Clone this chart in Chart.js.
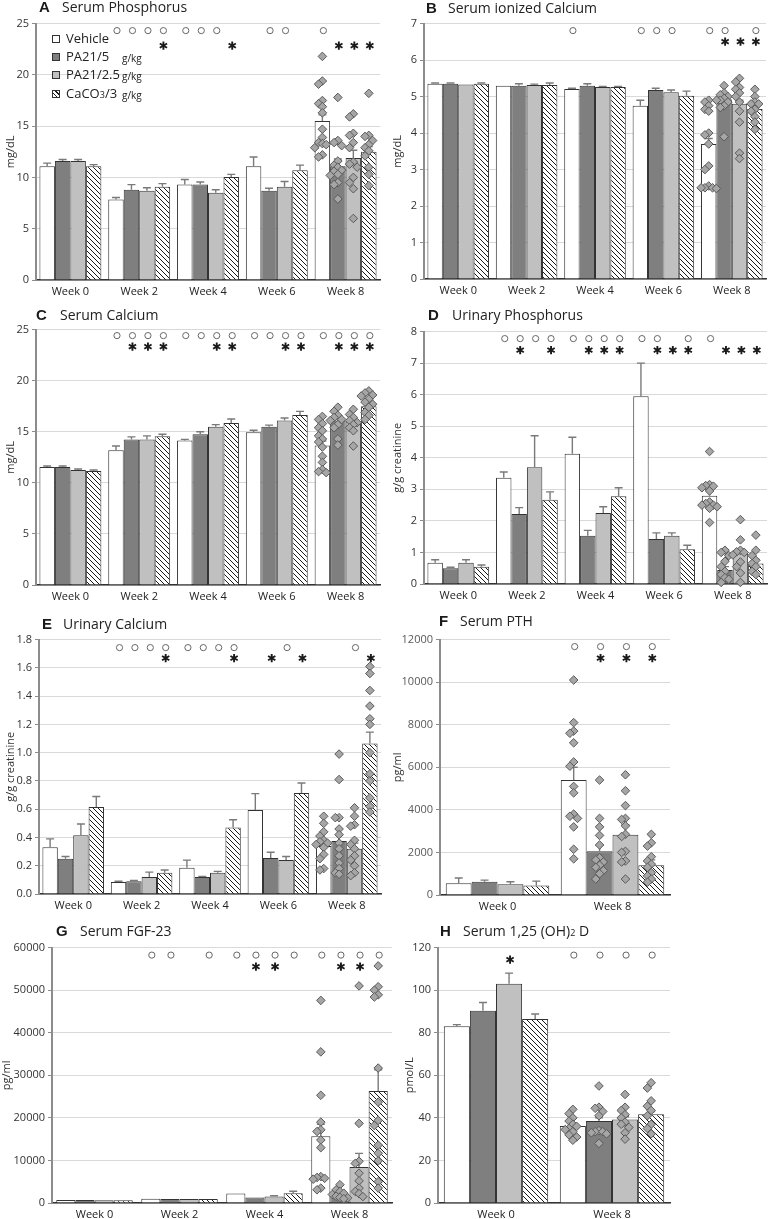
<!DOCTYPE html>
<html><head><meta charset="utf-8">
<script src="https://cdn.jsdelivr.net/npm/chart.js@4.4.1/dist/chart.umd.min.js"></script>
<style>
html,body{margin:0;padding:0;background:#fff;}
body{width:771px;height:1219px;position:relative;overflow:hidden;font-family:'Open Sans',sans-serif;color:#222;}
canvas{position:absolute;}
.tl{position:absolute;font-family:'Liberation Sans',Arial,sans-serif;font-weight:bold;font-size:15px;line-height:1;white-space:nowrap;color:#1a1a1a;}
.tt{position:absolute;font-family:'Open Sans',sans-serif;font-size:14px;line-height:1;white-space:nowrap;color:#222;}
.sub{font-size:9px;}
.lgbox{position:absolute;width:8px;height:8px;border:1px solid #333;box-sizing:border-box;}
.lgtx{position:absolute;font-size:13px;line-height:1;white-space:nowrap;color:#222;}
.lgu{position:absolute;font-size:10px;line-height:1;white-space:nowrap;color:#222;}
</style>
</head><body>
<script>
// ---------- categories / series ----------
const groupNames = ['Vehicle', 'PA21/5', 'PA21/2.5', 'CaCO₃/3'];
const unitLabel = 'g/kg';
const weeksFive = ['Week 0', 'Week 2', 'Week 4', 'Week 6', 'Week 8'];
const weeksFour = ['Week 0', 'Week 2', 'Week 4', 'Week 8'];
const weeksTwo = ['Week 0', 'Week 8'];

// ---------- A Serum Phosphorus (mg/dL) ----------
const phosMeans = [[11.1, 7.85, 9.3, 11.1, 15.5], [11.6, 8.8, 9.3, 8.7, 11.1], [11.6, 8.7, 8.5, 9.1, 11.9], [11.1, 9.1, 10.05, 10.7, 12.5]];
const phosErr = [[11.4, 8.05, 9.8, 12.0, 16.1], [11.75, 9.3, 9.55, 8.95, 11.8], [11.75, 9.0, 8.8, 9.6, 12.65], [11.25, 9.4, 10.3, 11.2, 13.0]];
const phosPts = [[21.8, 19.4, 19.1, 17.5, 17.2, 16.9, 16.3, 14.7, 13.9, 13.4, 13.3, 13.2, 12.9, 12.2, 12.0],
  [17.8, 13.6, 13.4, 13.1, 11.6, 11.2, 11.0, 10.7, 10.6, 10.3, 10.2, 9.5, 9.3, 7.9],
  [16.2, 15.9, 14.3, 14.1, 13.4, 12.9, 11.5, 11.3, 11.0, 10.0, 9.5, 8.9, 6.0],
  [18.2, 14.1, 14.0, 13.6, 13.2, 12.9, 12.6, 12.1, 11.0, 10.3, 9.2]];
const phosCirc = ['0000', '1111', '1110', '0110', '1000'];
const phosStar = ['0000', '0001', '0001', '0000', '0111'];

// ---------- B Serum ionized Calcium (mg/dL) ----------
const ionMeans = [[5.35, 5.3, 5.21, 4.75, 3.7], [5.35, 5.3, 5.3, 5.18, 4.93], [5.33, 5.32, 5.26, 5.12, 4.8], [5.35, 5.32, 5.26, 5.02, 4.66]];
const ionErr = [[5.37, 5.31, 5.23, 4.9, 3.85], [5.37, 5.35, 5.35, 5.23, 5.0], [5.34, 5.34, 5.28, 5.18, 4.9], [5.37, 5.37, 5.28, 5.15, 4.75]];
const ionPts = [[4.9, 4.85, 4.75, 4.65, 4.6, 4.0, 3.95, 3.7, 3.1, 3.0, 2.55, 2.5, 2.5, 2.5, 2.48],
  [5.3, 5.1, 5.05, 5.0, 4.95, 4.9, 4.9, 4.85, 4.75, 4.7, 3.9],
  [5.5, 5.4, 5.25, 5.2, 5.1, 5.0, 4.85, 4.6, 4.3, 3.45, 3.3],
  [5.2, 5.0, 4.85, 4.8, 4.8, 4.65, 4.6, 4.45, 4.3, 4.1]];
const ionCirc = ['0000', '0000', '1000', '1110', '1101'];
const ionStar = ['0000', '0000', '0000', '0000', '0111'];

// ---------- C Serum Calcium (mg/dL) ----------
const caMeans = [[11.55, 13.2, 14.15, 14.95, 13.65], [11.55, 14.25, 14.75, 15.5, 16.1], [11.25, 14.25, 15.5, 16.1, 16.0], [11.15, 14.55, 15.85, 16.65, 17.5]];
const caErr = [[11.65, 13.6, 14.25, 15.15, 14.1], [11.65, 14.5, 15.0, 15.65, 16.35], [11.35, 14.6, 15.7, 16.35, 16.3], [11.25, 14.75, 16.25, 17.0, 17.85]];
const caPts = [[16.5, 16.2, 15.8, 15.4, 15.1, 14.6, 14.3, 14.0, 13.5, 12.6, 12.0, 11.3, 11.1, 11.0],
  [17.4, 17.0, 16.6, 16.4, 16.2, 16.1, 15.7, 15.4, 14.3, 13.7],
  [17.2, 16.7, 16.4, 16.1, 15.9, 15.7, 15.4, 15.1, 13.6],
  [19.0, 18.8, 18.6, 18.5, 18.2, 17.9, 17.7, 17.4, 16.9, 16.6, 16.2]];
const caCirc = ['0000', '1111', '1111', '1111', '1111'];
const caStar = ['0000', '0111', '0011', '0011', '0111'];

// ---------- D Urinary Phosphorus (g/g creatinine) ----------
const upMeans = [[0.67, 3.37, 4.13, 5.95, 2.8], [0.5, 2.22, 1.53, 1.43, 0.44], [0.67, 3.7, 2.25, 1.53, 0.97], [0.55, 2.67, 2.78, 1.1, 0.65]];
const upErr = [[0.77, 3.55, 4.65, 7.0, 2.95], [0.53, 2.42, 1.7, 1.62, 0.55], [0.77, 4.7, 2.45, 1.62, 1.12], [0.6, 2.92, 3.05, 1.23, 0.78]];
const upPts = [[4.2, 3.15, 3.12, 3.1, 3.05, 2.95, 2.6, 2.55, 2.5, 2.5, 2.45, 2.4, 1.95],
  [1.07, 1.0, 0.9, 0.72, 0.55, 0.4, 0.3, 0.2, 0.15, 0.05],
  [2.04, 1.4, 1.07, 1.02, 1.0, 0.92, 0.7, 0.55, 0.35, 0.05],
  [1.55, 1.07, 0.9, 0.75, 0.65, 0.55, 0.4, 0.3]];
const upCirc = ['0000', '1111', '1111', '1101', '1000'];
const upStar = ['0000', '0101', '0111', '0111', '0111'];

// ---------- E Urinary Calcium (g/g creatinine) ----------
const ucMeans = [[0.33, 0.085, 0.185, 0.595, 0.34], [0.25, 0.09, 0.12, 0.255, 0.375], [0.415, 0.12, 0.15, 0.24, 0.32], [0.615, 0.15, 0.47, 0.715, 1.065]];
const ucErr = [[0.39, 0.09, 0.24, 0.71, 0.38], [0.265, 0.095, 0.125, 0.295, 0.42], [0.495, 0.155, 0.16, 0.265, 0.36], [0.69, 0.17, 0.525, 0.785, 1.145]];
const ucPts = [[0.55, 0.5, 0.44, 0.41, 0.38, 0.37, 0.36, 0.35, 0.33, 0.28, 0.25, 0.18, 0.17],
  [0.99, 0.81, 0.54, 0.54, 0.46, 0.42, 0.36, 0.32, 0.27, 0.22, 0.18, 0.15, 0.14],
  [0.61, 0.55, 0.49, 0.48, 0.38, 0.35, 0.32, 0.27, 0.24, 0.2, 0.15, 0.13],
  [1.61, 1.56, 1.44, 1.33, 1.24, 1.2, 1.0, 0.85, 0.8, 0.68, 0.62, 0.58]];
const ucCirc = ['0000', '1111', '1111', '0010', '0010'];
const ucStar = ['0000', '0001', '0001', '0101', '0001'];

// ---------- F Serum PTH (pg/ml) ----------
const pthMeans = [[550, 5400], [620, 2050], [500, 2830], [450, 1400]];
const pthErr = [[800, 6000], [700, 2350], [620, 3300], [650, 1650]];
const pthPts = [[10100, 8100, 7700, 7600, 7150, 6250, 6050, 5100, 4800, 3800, 3700, 3600, 3200, 2150, 1700],
  [5400, 3600, 3200, 2800, 2350, 1750, 1650, 1550, 1400, 1300, 1150, 1000, 750],
  [5650, 4900, 4200, 3600, 3550, 3250, 2850, 2750, 2050, 2000, 1600, 1550, 750],
  [2850, 2450, 2300, 1800, 1600, 1450, 1300, 1050, 900, 750, 600]];
const pthCirc = ['0000', '1111'];
const pthStar = ['0000', '0111'];

// ---------- G Serum FGF-23 (pg/ml) ----------
const fgfMeans = [[700, 1000, 2250, 15700], [700, 950, 1300, 1950], [650, 950, 1550, 8450], [650, 950, 2300, 26300]];
const fgfErr = [[750, 1100, 2300, 18500], [750, 1000, 1400, 2300], [700, 1000, 1700, 11650], [700, 1000, 2750, 31300]];
const fgfPts = [[47600, 35500, 25300, 19000, 17200, 16800, 14800, 13000, 6200, 6000, 5800, 5600, 3500, 3100],
  [4300, 3100, 2700, 2300, 2000, 1600, 1300, 1200, 1000],
  [51000, 18700, 9800, 9300, 7000, 5200, 3500, 2700, 2200, 1500],
  [55700, 50800, 50000, 48900, 48400, 31700, 23700, 19400, 18200, 13600, 11700, 9900, 5000, 3500]];
const fgfCirc = ['0000', '1101', '1111', '1111'];
const fgfStar = ['0000', '0000', '0110', '0110'];

// ---------- H Serum 1,25 (OH)2 D (pmol/L) ----------
const vdMeans = [[83, 36.2], [90.3, 38.5], [103, 39.2], [86.5, 41.7]];
const vdErr = [[83.8, 37.5], [94.2, 40], [108, 40.5], [88.8, 43]];
const vdPts = [[44, 42, 40, 38.5, 37, 36, 35, 34.5, 33.5, 32, 31, 29.5],
  [55, 45, 44.5, 43, 41, 34, 33.5, 33.5, 33, 32.5, 28],
  [51, 45, 43.5, 41.5, 40, 38, 37, 35.5, 33, 30],
  [56.5, 54, 48, 45.5, 43.5, 41, 37, 35, 32.5]];
const vdCirc = ['0000', '1111'];
const vdStar = ['0010', '0000'];

// ---------- panel layout ----------
const panels = [
  {letter:'A', title:'Serum Phosphorus', cats:weeksFive, means:phosMeans, errs:phosErr, pts:phosPts, circ:phosCirc, star:phosStar,
   yTitle:'mg/dL', max:25, step:5, dec:0, canvas:[0,14,390,287], area:[36,22,380,280], yTitlePad:4, circDy:7, starDy:22,
   lx:39, tx:62, base:12},
  {letter:'B', title:'Serum ionized Calcium', cats:weeksFive, means:ionMeans, errs:ionErr, pts:ionPts, circ:ionCirc, star:ionStar,
   yTitle:'mg/dL', max:7, step:1, dec:0, canvas:[385,14,386,287], area:[424,22,766,279], yTitlePad:6, circDy:7, starDy:18,
   lx:426, tx:448, base:13},
  {letter:'C', title:'Serum Calcium', cats:weeksFive, means:caMeans, errs:caErr, pts:caPts, circ:caCirc, star:caStar,
   yTitle:'mg/dL', max:25, step:5, dec:0, canvas:[0,320,390,288], area:[36,328,380,585], yTitlePad:4, circDy:6, starDy:17,
   lx:36, tx:60, base:320},
  {letter:'D', title:'Urinary Phosphorus', cats:weeksFive, means:upMeans, errs:upErr, pts:upPts, circ:upCirc, star:upStar,
   yTitle:'g/g creatinine', max:8, step:1, dec:0, canvas:[385,322,386,286], area:[424,327,767,584], yTitlePad:6, circDy:7, starDy:18.5,
   lx:428, tx:452, base:320},
  {letter:'E', title:'Urinary Calcium', cats:weeksFive, means:ucMeans, errs:ucErr, pts:ucPts, circ:ucCirc, star:ucStar,
   yTitle:'g/g creatinine', max:1.8, step:0.2, dec:1, canvas:[0,630,390,286], area:[39,637,381,894], yTitlePad:4, circDy:8, starDy:18.5,
   lx:42, tx:63, base:629},
  {letter:'F', title:'Serum PTH', cats:weeksTwo, means:pthMeans, errs:pthErr, pts:pthPts, circ:pthCirc, star:pthStar,
   yTitle:'pg/ml', max:12000, step:2000, dec:0, canvas:[385,630,386,286], area:[440,637,670,895], yTitlePad:6, circDy:7, starDy:18.5,
   lx:439, tx:460, base:626, tickColor:'#595959'},
  {letter:'G', title:'Serum FGF-23', cats:weeksFour, means:fgfMeans, errs:fgfErr, pts:fgfPts, circ:fgfCirc, star:fgfStar,
   yTitle:'pg/ml', max:60000, step:10000, dec:0, canvas:[0,938,395,281], area:[52,946,392,1203], yTitlePad:0, circDy:7.5, starDy:19,
   lx:56, tx:80, base:936},
  {letter:'H', title:'Serum 1,25 (OH)<span class="sub">2</span> D', cats:weeksTwo, means:vdMeans, errs:vdErr, pts:vdPts, circ:vdCirc, star:vdStar,
   yTitle:'pmol/L', max:120, step:20, dec:0, canvas:[385,938,386,281], area:[438,946,670,1203], yTitlePad:18, circDy:7.5, starDy:12,
   lx:440, tx:463, base:936}
];

const CP = 0.9;
Chart.defaults.font.family = "'Open Sans', 'DejaVu Sans', sans-serif";
Chart.defaults.font.size = 11;
Chart.defaults.color = '#333';

function hatchTile() {
  const c = document.createElement('canvas'); c.width = 5; c.height = 5;
  const g = c.getContext('2d');
  g.fillStyle = '#fff'; g.fillRect(0, 0, 5, 5);
  g.strokeStyle = '#1a1a1a'; g.lineWidth = 1;
  g.beginPath();
  g.moveTo(-1, -1); g.lineTo(6, 6);
  g.moveTo(4, -1); g.lineTo(6, 1);
  g.moveTo(-1, 4); g.lineTo(1, 6);
  g.stroke();
  return c;
}
const tile = hatchTile();

// beeswarm layout: horizontal slot for each individual value so diamonds do not pile up
function swarm(vals, pxPerVal) {
  const order = vals.map((v, i) => i).sort((a, b) => vals[b] - vals[a]);
  const placed = []; const slots = new Array(vals.length).fill(0);
  const seq = [0, -1, 1, -2, 2];
  for (const i of order) {
    const py = vals[i] * pxPerVal;
    let s = seq[seq.length - 1];
    for (const c of seq) { if (!placed.some(q => q.s === c && Math.abs(q.py - py) < 5.5)) { s = c; break; } }
    placed.push({ s, py }); slots[i] = s;
  }
  return slots;
}

function addText(cls, html, x, baseline, factor, size) {
  const d = document.createElement('div');
  d.className = cls; d.innerHTML = html;
  d.style.left = x + 'px';
  d.style.top = (baseline - factor * size) + 'px';
  document.body.appendChild(d);
}

function build(p) {
  const [cl, ct, cw, ch] = p.canvas;
  const [al, at, ar, ab] = p.area;
  const cv = document.createElement('canvas');
  cv.width = cw; cv.height = ch;
  cv.style.left = cl + 'px'; cv.style.top = ct + 'px';
  document.body.appendChild(cv);
  const ctx = cv.getContext('2d');
  const n = p.cats.length;
  const pxPerVal = (ab - at) / p.max;
  const fills = ['#ffffff', '#7f7f7f', '#c0c0c0', ctx.createPattern(tile, 'repeat')];
  const ds = [];
  for (let k = 0; k < 4; k++) {
    ds.push({ label: groupNames[k], data: p.means[k], backgroundColor: fills[k],
      borderColor: '#333', borderWidth: 1, categoryPercentage: CP, barPercentage: 1 });
  }
  const slots = p.pts.map(v => swarm(v, pxPerVal));

  const errPlugin = {
    id: 'err' + p.letter,
    afterDatasetDraw(chart, args) {
      const meta = args.meta;
      const k = args.index;
      const c = chart.ctx, ys = chart.scales.y;
      c.save(); c.strokeStyle = '#7a7a7a'; c.lineWidth = 1.4;
      meta.data.forEach((bar, i) => {
        const yT = ys.getPixelForValue(p.errs[k][i]);
        if (yT >= bar.y - 0.5) return;
        c.beginPath();
        c.moveTo(bar.x, bar.y); c.lineTo(bar.x, yT);
        c.moveTo(bar.x - 4, yT); c.lineTo(bar.x + 4, yT);
        c.stroke();
      });
      c.restore();
    }
  };
  const marksPlugin = {
    id: 'marks' + p.letter,
    afterDatasetsDraw(chart) {
      const c = chart.ctx, top = chart.chartArea.top, ys = chart.scales.y;
      c.save();
      // individual values (week 8 column) as diamonds
      for (let k = 0; k < 4; k++) {
        const bar = chart.getDatasetMeta(k).data[n - 1];
        p.pts[k].forEach((v, i) => {
          const x = bar.x + slots[k][i] * 3.8, y = ys.getPixelForValue(v), r = 4.3;
          c.beginPath();
          c.moveTo(x, y - r); c.lineTo(x + r, y); c.lineTo(x, y + r); c.lineTo(x - r, y); c.closePath();
          c.fillStyle = '#a6a6a6'; c.fill();
          c.strokeStyle = '#5a5a5a'; c.lineWidth = 1; c.stroke();
        });
      }
      // significance markers
      for (let k = 0; k < 4; k++) {
        const meta = chart.getDatasetMeta(k);
        for (let i = 0; i < n; i++) {
          const x = meta.data[i].x + 1;
          if (p.circ[i][k] === '1') {
            c.beginPath(); c.arc(x, top + p.circDy, 3.1, 0, Math.PI * 2);
            c.fillStyle = '#fff'; c.fill();
            c.strokeStyle = '#666'; c.lineWidth = 1; c.stroke();
          }
          if (p.star[i][k] === '1') {
            const y = top + p.starDy, r = 4.2;
            c.strokeStyle = '#1a1a1a'; c.lineWidth = 1.9; c.lineCap = 'butt';
            c.beginPath();
            for (const a of [90, 30, 150]) {
              const rad = a * Math.PI / 180;
              c.moveTo(x - r * Math.cos(rad), y - r * Math.sin(rad));
              c.lineTo(x + r * Math.cos(rad), y + r * Math.sin(rad));
            }
            c.stroke();
          }
        }
      }
      c.restore();
    }
  };
  new Chart(ctx, {
    type: 'bar',
    data: { labels: p.cats, datasets: ds },
    options: {
      responsive: false, animation: false, devicePixelRatio: 1,
      layout: { padding: { left: 0, top: at - ct, right: (cl + cw) - ar, bottom: 0 } },
      plugins: { legend: { display: false }, tooltip: { enabled: false } },
      scales: {
        x: { type: 'category', position: 'bottom',
          grid: { display: false, drawTicks: false },
          border: { display: true, color: '#333', width: 1.5 },
          ticks: { padding: 5, color: '#222', font: { size: 11 }, maxRotation: 0 },
          afterFit(s) { s.height = (ct + ch) - ab; } },
        y: { type: 'linear', position: 'left', min: 0, max: p.max,
          ticks: { stepSize: p.step, padding: 3, color: p.tickColor || '#333', font: { size: 11 },
            callback: v => Number(v).toFixed(p.dec) },
          grid: { color: '#d9d9d9', lineWidth: 1, drawTicks: true, tickLength: 4, tickColor: '#8c8c8c' },
          border: { display: true, color: '#8c8c8c', width: 2 },
          title: { display: true, text: p.yTitle, color: '#333', font: { size: 11 }, padding: { top: p.yTitlePad, bottom: 0 } },
          afterFit(s) { s.width = al - cl; } }
      }
    },
    plugins: [errPlugin, marksPlugin]
  });
  addText('tl', p.letter, p.lx, p.base, 0.8465, 15);
  addText('tt', p.title, p.tx, p.base, 0.888, 14);
}

panels.forEach(build);

// legend for panel A (built from the series names)
const lgRows = [39, 57, 75, 94];
const lgFills = ['#ffffff', '#7f7f7f', '#c0c0c0',
  'repeating-linear-gradient(45deg, #fff 0px, #fff 2.2px, #1a1a1a 2.2px, #1a1a1a 3.3px)'];
groupNames.forEach((name, k) => {
  const b = document.createElement('div');
  b.className = 'lgbox';
  b.style.left = '52px'; b.style.top = (lgRows[k] - 4) + 'px';
  b.style.background = lgFills[k];
  document.body.appendChild(b);
  const html = name.replace('₃', '<span class="sub">3</span>');
  addText('lgtx', html, 66, lgRows[k] + 4.5, 0.888, 13);
  if (k > 0) addText('lgu', unitLabel, 122, lgRows[k] + 4.5, 0.888, 10);
});
</script>
</body></html>
